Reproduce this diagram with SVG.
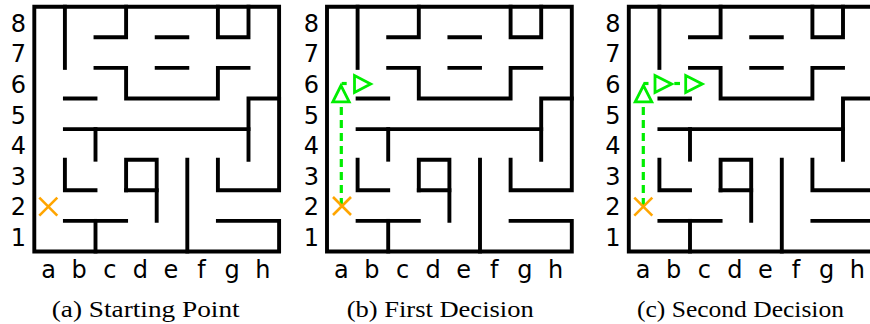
<svg xmlns="http://www.w3.org/2000/svg" xmlns:xlink="http://www.w3.org/1999/xlink" width="870" height="324" viewBox="0 0 870 324">
<style>
.w{fill:none;stroke:#000;stroke-width:3.9;stroke-linecap:square;stroke-linejoin:miter}
.lab{font-family:"DejaVu Sans",sans-serif;font-size:24px;fill:#000;text-anchor:middle}
.cap{font-family:"Liberation Serif","DejaVu Serif",serif;font-size:24px;fill:#000}
.x{stroke:#ffa500;stroke-width:2.6;fill:none}
.d{stroke:#00ee00;stroke-width:3.2;fill:none;stroke-dasharray:8 5}
.ds{stroke:#00ee00;stroke-width:3.2;fill:none}
.t{stroke:#00ee00;stroke-width:2.8;fill:#fff;stroke-linejoin:miter}
</style>
<defs>
<g id="maze">
<path class="w" d="M183.6,153 V183.6 H244.8 V0 H0 V244.8 H244.8 V214.2 H183.6"/>
<path class="w" d="M30.6,0 V61.2"/>
<path class="w" d="M61.2,30.6 H91.8 V0"/>
<path class="w" d="M122.4,30.6 H153"/>
<path class="w" d="M183.6,0 V30.6 H214.2 V0"/>
<path class="w" d="M61.2,61.2 H91.8 V91.8 H183.6 V61.2 H214.2"/>
<path class="w" d="M122.4,61.2 H153"/>
<path class="w" d="M30.6,91.8 H61.2"/>
<path class="w" d="M244.8,91.8 H214.2 V153"/>
<path class="w" d="M30.6,122.4 H214.2"/>
<path class="w" d="M61.2,122.4 V153"/>
<path class="w" d="M30.6,153 V183.6 H61.2"/>
<path class="w" d="M91.8,183.6 V153 H122.4 V214.2"/>
<path class="w" d="M91.8,183.6 H122.4"/>
<path class="w" d="M153,153 V244.8"/>
<path class="w" d="M30.6,214.2 H91.8"/>
<path class="w" d="M61.2,214.2 V244.8"/>
</g>
</defs>

<g id="maze-a">
<use xlink:href="#maze" href="#maze" x="34.3" y="6.7"/>
<g class="lab">
<text x="18.3" y="31.7">8</text><text x="18.3" y="62.3">7</text><text x="18.3" y="92.9">6</text><text x="18.3" y="123.5">5</text>
<text x="18.3" y="154.1">4</text><text x="18.3" y="184.7">3</text><text x="18.3" y="215.3">2</text><text x="18.3" y="245.9">1</text>
<text x="48.6" y="278">a</text><text x="79.2" y="278">b</text><text x="109.8" y="278">c</text><text x="140.4" y="278">d</text>
<text x="171" y="278">e</text><text x="201.6" y="278">f</text><text x="232.2" y="278">g</text><text x="262.8" y="278">h</text>
</g>
<path id="start-a" class="x" d="M39.3,197.7 L57.3,215.7 M57.3,197.7 L39.3,215.7"/>
<text class="cap" x="51.7" y="317" textLength="188" lengthAdjust="spacingAndGlyphs">(a) Starting Point</text>
</g>

<g id="maze-b">
<use xlink:href="#maze" href="#maze" x="327" y="6.7"/>
<g class="lab">
<text x="311.3" y="31.7">8</text><text x="311.3" y="62.3">7</text><text x="311.3" y="92.9">6</text><text x="311.3" y="123.5">5</text>
<text x="311.3" y="154.1">4</text><text x="311.3" y="184.7">3</text><text x="311.3" y="215.3">2</text><text x="311.3" y="245.9">1</text>
<text x="341.3" y="278">a</text><text x="371.9" y="278">b</text><text x="402.5" y="278">c</text><text x="433.1" y="278">d</text>
<text x="463.7" y="278">e</text><text x="494.3" y="278">f</text><text x="524.9" y="278">g</text><text x="555.5" y="278">h</text>
</g>
<g id="path-b">
<path class="d" d="M341.3,206 V103"/>
<path class="ds" d="M341.7,83.5 H346.7"/>
<polygon class="t" points="341,85.5 332.8,101.8 349.2,101.8"/>
<polygon class="t" points="354.5,75.5 354.5,92.5 370.7,84"/>
</g>
<path id="start-b" class="x" d="M333,197 L351,215 M351,197 L333,215"/>
<text class="cap" x="346.7" y="317" textLength="187" lengthAdjust="spacingAndGlyphs">(b) First Decision</text>
</g>

<g id="maze-c">
<use xlink:href="#maze" href="#maze" x="628.8" y="6.7"/>
<g class="lab">
<text x="612.8" y="31.7">8</text><text x="612.8" y="62.3">7</text><text x="612.8" y="92.9">6</text><text x="612.8" y="123.5">5</text>
<text x="612.8" y="154.1">4</text><text x="612.8" y="184.7">3</text><text x="612.8" y="215.3">2</text><text x="612.8" y="245.9">1</text>
<text x="643.1" y="278">a</text><text x="673.7" y="278">b</text><text x="704.3" y="278">c</text><text x="734.9" y="278">d</text>
<text x="765.5" y="278">e</text><text x="796.1" y="278">f</text><text x="826.7" y="278">g</text><text x="857.3" y="278">h</text>
</g>
<g id="path-c">
<path class="d" d="M643.3,206 V103"/>
<path class="ds" d="M643.5,83.5 H648.5"/>
<path class="ds" d="M674.3,83.5 H680"/>
<polygon class="t" points="643.5,85.5 635.2,101.8 651.8,101.8"/>
<polygon class="t" points="655,75.5 655,92.5 671.7,84"/>
<polygon class="t" points="685.7,75.5 685.7,92.5 702.3,84"/>
</g>
<path id="start-c" class="x" d="M634.3,197.7 L652.3,215.7 M652.3,197.7 L634.3,215.7"/>
<text class="cap" x="637" y="317" textLength="207" lengthAdjust="spacingAndGlyphs">(c) Second Decision</text>
</g>
</svg>
